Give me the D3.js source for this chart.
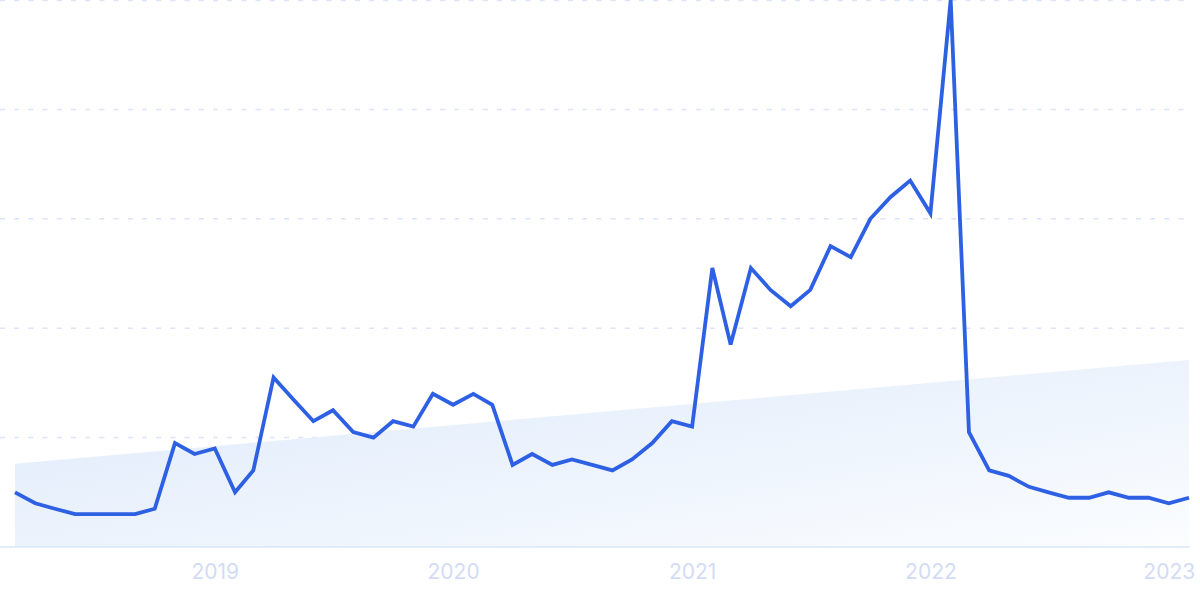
<!DOCTYPE html>
<html>
<head>
<meta charset="utf-8">
<script src="https://cdn.jsdelivr.net/npm/d3@7"></script>
<style>
html,body{margin:0;padding:0;background:#fff;}
svg{display:block;}
</style>
</head>
<body>
<svg id="chart" width="1200" height="599"></svg>
<script>
// Monthly values, March 2018 .. February 2023
const startMonth = "2018-03";
const values = [10, 8, 7, 6, 6, 6, 6, 7, 19, 17,
  18, 10, 14, 31, 27, 23, 25, 21, 20, 23,
  22, 28, 26, 28, 26, 15, 17, 15, 16, 15,
  14, 16, 19, 23, 22, 51, 37, 51, 47, 44,
  47, 55, 53, 60, 64, 67, 61, 100, 21, 14,
  13, 11, 10, 9, 9, 10, 9, 9, 8, 9];
const trendValues = [15.2, 34.2];
const gridValues = [20, 40, 60, 80, 100];
const yearTicks = ["2019", "2020", "2021", "2022", "2023"];

const svg = d3.select("#chart");
const parse = d3.timeParse("%Y-%m");
const t0 = parse(startMonth);
const dates = values.map((v, i) => d3.timeMonth.offset(t0, i));
const data = values.map((v, i) => ({date: dates[i], value: v}));

const x = d3.scaleTime().domain([dates[0], dates[dates.length - 1]]).range([15, 1189]);
const y = d3.scaleLinear().domain([0, 100]).range([547, 0]);

const defs = svg.append("defs");
const grad = defs.append("linearGradient").attr("id", "trendGrad")
  .attr("x1", "0%").attr("y1", "0%").attr("x2", "100%").attr("y2", "100%");
grad.append("stop").attr("offset", "0%").attr("stop-color", "#dde9fa");
grad.append("stop").attr("offset", "100%").attr("stop-color", "#fbfdff");

// gridlines
svg.append("g").selectAll("line").data(gridValues).join("line")
  .attr("x1", 0).attr("x2", 1186)
  .attr("y1", d => y(d) + (d === 100 ? 0.5 : 0)).attr("y2", d => y(d) + (d === 100 ? 0.5 : 0))
  .attr("stroke", "#dbe4f8").attr("stroke-width", 1.5)
  .attr("stroke-dasharray", "5,9.2");

// trend area
const trendData = [
  {date: dates[0], value: trendValues[0]},
  {date: dates[dates.length - 1], value: trendValues[1]}
];
svg.append("path").datum(trendData)
  .attr("d", d3.area().x(d => x(d.date)).y0(y(0)).y1(d => y(d.value)))
  .attr("fill", "url(#trendGrad)");

// baseline
svg.append("line").attr("x1", 0).attr("x2", 1190)
  .attr("y1", y(0)).attr("y2", y(0))
  .attr("stroke", "#d8e6f9").attr("stroke-width", 1.5);

// x axis labels
const xAxis = d3.axisBottom(x)
  .tickValues(yearTicks.map(s => d3.timeParse("%Y")(s)))
  .tickFormat(d3.timeFormat("%Y"))
  .tickSize(0).tickPadding(0);
const ax = svg.append("g").attr("transform", "translate(0,555)").call(xAxis);
ax.select(".domain").remove();
ax.selectAll("text")
  .attr("dy", "0.75em")
  .attr("y", 8)
  .attr("fill", "#d3dcf5")
  .style("font-family", "Inter, 'Noto Sans', sans-serif")
  .style("font-size", "21px");

// line
svg.append("path").datum(data)
  .attr("d", d3.line().x(d => x(d.date)).y(d => y(d.value)))
  .attr("fill", "none")
  .attr("stroke", "#2e60e4")
  .attr("stroke-width", 3.8)
  .attr("stroke-linejoin", "miter")
  .attr("stroke-linecap", "butt");
</script>
</body>
</html>
